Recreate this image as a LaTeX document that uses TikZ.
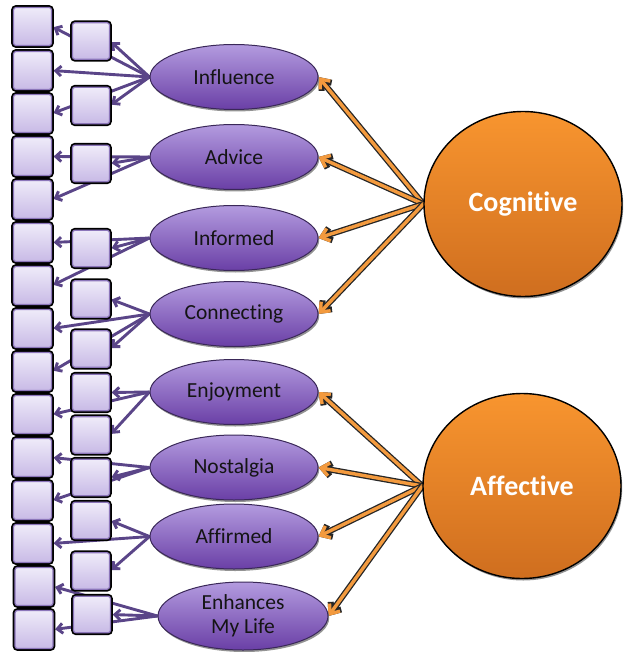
\documentclass[tikz,border=0pt]{standalone}
\usepackage{fontspec}
\setmainfont{Carlito}[Ligatures={NoCommon,NoContextual},Contextuals=NoAlternate]
\usetikzlibrary{shapes.geometric,arrows.meta,shadows,backgrounds}

\definecolor{boxtop}{HTML}{EFEBF9}
\definecolor{boxbot}{HTML}{C8BAE6}
\definecolor{boxrim}{HTML}{8C76BA}
\definecolor{ovtop}{HTML}{B39BDF}
\definecolor{ovbot}{HTML}{6A3FA6}
\definecolor{ovrim}{HTML}{3A2858}
\definecolor{ortop}{HTML}{F8952F}
\definecolor{orbot}{HTML}{CF6E1F}
\definecolor{linkcol}{HTML}{5A4588}
\definecolor{orlink}{HTML}{F39A3E}

\tikzset{
  indbox/.style={rectangle, rounded corners=2.5pt, top color=boxtop, bottom color=boxbot,
    draw=boxrim, line width=1.2pt, preaction={draw=black, line width=4.6pt},
    inner sep=0pt},
  indboxA/.style={indbox, minimum width=38pt, minimum height=38pt},
  indboxB/.style={indbox, minimum width=37pt, minimum height=36.5pt},
  facnode/.style={ellipse, top color=ovtop, bottom color=ovbot, draw=ovrim, line width=1pt,
    minimum width=168pt, minimum height=65pt, inner sep=0pt, text=black!92,
    font=\fontsize{21.5}{24}\selectfont, align=center,
    drop shadow={opacity=0.85, shadow xshift=1.2pt, shadow yshift=-2pt}},
  topnode/.style={ellipse, top color=ortop, bottom color=orbot, draw=black, line width=1.4pt,
    minimum width=198pt, minimum height=185pt, inner sep=0pt, text=white,
    font=\bfseries\fontsize{28}{32}\selectfont,
    drop shadow={opacity=0.85, shadow xshift=1.2pt, shadow yshift=-2pt}},
  loadline/.style={draw=linkcol, line width=2.9pt, -{Straight Barb[length=5.5pt,width=10pt]}, shorten >=1.5pt},
  orback/.style={draw=black!85, line width=6pt, -{Straight Barb[length=8pt,width=13pt]}},
  orfront/.style={draw=orlink, line width=3.4pt, -{Straight Barb[length=8pt,width=13pt]}},
}

\begin{document}
\begin{tikzpicture}[x=1pt,y=-1pt]
\useasboundingbox (0,0) rectangle (623,652);

% outer column of indicator boxes
\node[indboxA] (A1)  at (32.5,26.5)  {};
\node[indboxA] (A2)  at (32.5,70.5)  {};
\node[indboxA] (A3)  at (32.5,113.5) {};
\node[indboxA] (A4)  at (32.5,156.5) {};
\node[indboxA] (A5)  at (32.5,199.5) {};
\node[indboxA] (A6)  at (32.5,242.5) {};
\node[indboxA] (A7)  at (32.5,285.5) {};
\node[indboxA] (A8)  at (32.5,328.5) {};
\node[indboxA] (A9)  at (32.5,371.5) {};
\node[indboxA] (A10) at (32.5,414.5) {};
\node[indboxA] (A11) at (32.5,457.5) {};
\node[indboxA] (A12) at (32.5,500.5) {};
\node[indboxA] (A13) at (32.5,543.5) {};
\node[indboxA] (A14) at (34,586.5)   {};
\node[indboxA] (A15) at (34,629.5)   {};

% inner column of indicator boxes
\node[indboxB] (B1)  at (91,41)    {};
\node[indboxB] (B2)  at (91,105.5) {};
\node[indboxB] (B3)  at (91,163.5) {};
\node[indboxB] (B4)  at (91,248.5) {};
\node[indboxB] (B5)  at (91,299)   {};
\node[indboxB] (B6)  at (91,349)   {};
\node[indboxB] (B7)  at (91,392.5) {};
\node[indboxB] (B8)  at (91,435)   {};
\node[indboxB] (B9)  at (91,477.5) {};
\node[indboxB] (B10) at (91,520.5) {};
\node[indboxB] (B11) at (91,571)   {};
\node[indboxB] (B12) at (92,614.5) {};

% first-order factors
\node[facnode] (inf)  at (234,77)    {Influence};
\node[facnode] (adv)  at (234,157)   {Advice};
\node[facnode] (infm) at (234,238)   {Informed};
\node[facnode] (con)  at (234,314)   {Connecting};
\node[facnode] (enj)  at (234,392)   {Enjoyment};
\node[facnode] (nos)  at (234,467.5) {Nostalgia};
\node[facnode] (affd) at (234,536.5) {Affirmed};
\node[facnode, minimum width=170pt, minimum height=68pt] (enh) at (243,616) {Enhances\\My Life};

% second-order factors
\node[topnode] (cog)  at (523,204) {Cognitive};
\node[topnode] (affe) at (522,486) {Affective};

\begin{scope}[on background layer]
  % loadings onto the indicators
  \foreach \f/\t in {inf/A1,inf/A2,inf/A3,adv/A4,adv/A5,infm/A6,infm/A7,con/A8,con/A9,
                     enj/A10,nos/A11,nos/A12,affd/A13,enh/A14,enh/A15}
    \draw[loadline] (\f.west) -- (\t.east);
  \foreach \f/\t in {inf/B1,inf/B2,adv/B3,infm/B4,con/B5,con/B6,enj/B7,enj/B8,
                     nos/B9,affd/B10,affd/B11,enh/B12}
    \draw[loadline] (\f.west) -- (\t.east);
  % loadings of the second-order factors
  \foreach \d/\f in {cog/inf,cog/adv,cog/infm,cog/con,affe/enj,affe/nos,affe/affd,affe/enh} {
    \draw[orback]  (\d.west) -- (\f.east);
    \draw[orfront] (\d.west) -- (\f.east);
  }
\end{scope}
\end{tikzpicture}
\end{document}
